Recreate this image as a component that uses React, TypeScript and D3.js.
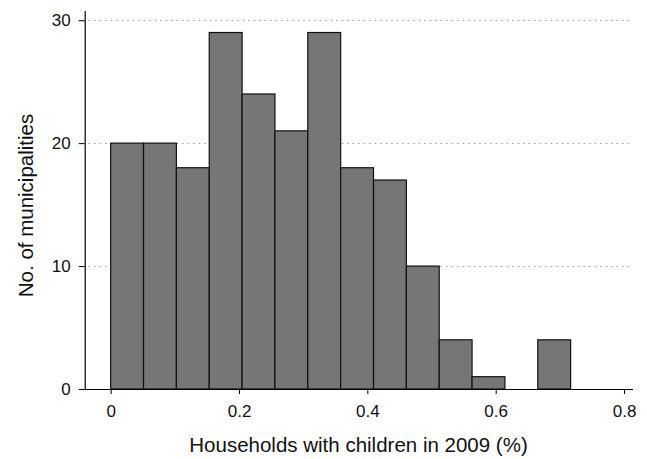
import React, { useEffect, useRef } from 'react'
import * as d3 from 'd3'

// histogram bins: start at 0, each about 0.0512 wide
const binStart = 0
const binWidth = 0.0512
const counts = [20, 20, 18, 29, 24, 21, 29, 18, 17, 10, 4, 1, 0, 4]
const xTicks = [0, 0.2, 0.4, 0.6, 0.8]
const yTicks = [0, 10, 20, 30]

const App: React.FC = () => {
    const ref = useRef<SVGSVGElement | null>(null)

    useEffect(() => {
        if (!ref.current) return
        const width = 647
        const height = 459
        const font = 'Liberation Sans, Arial, Helvetica, sans-serif'

        const svg = d3.select(ref.current)
        svg.selectAll('*').remove()

        const x = d3.scaleLinear().domain([-0.0405, 0.814]).range([84.7, 633])
        const y = d3.scaleLinear().domain([0, 30.75]).range([389, 11])

        // dotted grid lines
        svg.append('g')
            .selectAll('line')
            .data(yTicks.filter(d => d > 0))
            .join('line')
            .attr('x1', x(-0.0405) + 4)
            .attr('x2', 632)
            .attr('y1', d => Math.round(y(d)) + 0.5)
            .attr('y2', d => Math.round(y(d)) + 0.5)
            .attr('stroke', '#9a9a9a')
            .attr('stroke-width', 1)
            .attr('stroke-dasharray', '1.5,4')

        const bins = counts.map((c, i) => ({ x0: binStart + i * binWidth, x1: binStart + (i + 1) * binWidth, c }))

        svg.append('g')
            .selectAll('rect')
            .data(bins.filter(b => b.c > 0))
            .join('rect')
            .attr('x', d => x(d.x0))
            .attr('y', d => y(d.c))
            .attr('width', d => x(d.x1) - x(d.x0))
            .attr('height', d => y(0) - y(d.c))
            .attr('fill', '#767676')
            .attr('stroke', '#111')
            .attr('stroke-width', 1.2)

        // x axis
        svg.append('g')
            .attr('transform', `translate(0,${y(0)})`)
            .call(d3.axisBottom(x).tickValues(xTicks).tickSize(5).tickPadding(11).tickFormat(d => d3.format('')(d as number)))
            .call(g => g.select('.domain').attr('d', `M${x(-0.0405)},0.5H633`).attr('stroke', '#000').attr('stroke-width', 1.2))
            .call(g => g.selectAll('.tick line').attr('stroke', '#000'))
            .call(g => g.selectAll('.tick text').attr('fill', '#111').attr('font-size', '17px').attr('font-family', font))

        // y axis
        svg.append('g')
            .attr('transform', `translate(${x(-0.0405)},0)`)
            .call(d3.axisLeft(y).tickValues(yTicks).tickSize(6).tickPadding(8))
            .call(g => g.select('.domain').attr('d', `M0.5,${y(30.75)}V${y(0)}`).attr('stroke', '#000').attr('stroke-width', 1.2))
            .call(g => g.selectAll('.tick line').attr('stroke', '#000'))
            .call(g => g.selectAll('.tick text').attr('fill', '#111').attr('font-size', '17px').attr('font-family', font))

        svg.append('text')
            .attr('x', 358.5)
            .attr('y', 451.5)
            .attr('text-anchor', 'middle')
            .attr('font-size', '20.5px')
            .attr('font-family', font)
            .attr('fill', '#111')
            .text('Households with children in 2009 (%)')

        svg.append('text')
            .attr('transform', 'rotate(-90)')
            .attr('x', -205.5)
            .attr('y', 33)
            .attr('text-anchor', 'middle')
            .attr('font-size', '20.5px')
            .attr('font-family', font)
            .attr('fill', '#111')
            .text('No. of municipalities')

        svg.attr('width', width).attr('height', height)
    }, [])

    return <svg ref={ref} style={{ position: 'absolute', left: 0, top: 0, background: '#fff' }}></svg>
}

export default App
